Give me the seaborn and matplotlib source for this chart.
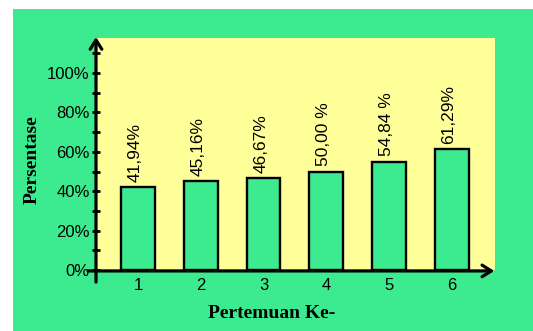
import matplotlib
matplotlib.use("Agg")
import matplotlib.pyplot as plt
from matplotlib.patches import Rectangle
from matplotlib.ticker import MultipleLocator, FuncFormatter
import seaborn as sns
import pandas as pd

# Meeting numbers and the share of students reaching the target (%)
meetings = ["1", "2", "3", "4", "5", "6"]
percent = [41.94, 45.16, 46.67, 50.00, 54.84, 61.29]
bar_labels = ["41,94%", "45,16%", "46,67%", "50,00 %", "54,84 %", "61,29%"]
y_ticks = [0, 20, 40, 60, 80, 100]

GREEN = "#3CEB8F"
YELLOW = "#FFFF99"

sns.set_theme(style="white")
plt.rcParams["font.family"] = ["Liberation Sans", "DejaVu Sans"]
plt.rcParams["text.color"] = "black"

fig = plt.figure(figsize=(5.33, 3.31), dpi=100)
fig.patch.set_facecolor("white")
# green backdrop behind the whole chart
fig.patches.append(Rectangle((13 / 533, 0), 1 - 13 / 533, 1 - 9 / 331,
                             transform=fig.transFigure, facecolor=GREEN,
                             edgecolor="none", zorder=-10))

ax = fig.add_axes([96 / 533, 61 / 331, 399 / 533, 232 / 331])
ax.set_zorder(5)
ax.set_facecolor(YELLOW)

df = pd.DataFrame({"Pertemuan": meetings, "Persen": percent})
sns.barplot(data=df, x="Pertemuan", y="Persen", color=GREEN, saturation=1,
            edgecolor="black", linewidth=1.7, width=0.54, ax=ax, zorder=3)

ax.set_xlim(-0.67, 5.69)
ax.set_ylim(0, 117.8)

for sp in ax.spines.values():
    sp.set_visible(False)

# value labels above each bar
for i, (v, lab) in enumerate(zip(percent, bar_labels)):
    ax.annotate(lab, xy=(i, v), xytext=(-2, 4), textcoords="offset points",
                rotation=90, ha="center", va="bottom", fontsize=12.5,
                color="black", zorder=5)

ax.set_yticks(y_ticks)
ax.yaxis.set_minor_locator(MultipleLocator(10))
ax.yaxis.set_major_formatter(FuncFormatter(lambda v, p: f"{v:.0f}%"))
ax.tick_params(axis="y", which="both", direction="inout", length=6, width=2,
               color="black", left=True, pad=1.5, labelsize=12,
               labelcolor="black")
ax.tick_params(axis="x", length=0, pad=6, labelsize=12, labelcolor="black")
ax.set_xticks(range(len(meetings)))
ax.set_xticklabels(meetings)

# axes drawn as arrows
arrow = dict(arrowstyle="->,head_length=0.55,head_width=0.35", lw=2.3,
             color="black", shrinkA=0, shrinkB=0)
ax.annotate("", xy=(0.0, 1.004), xytext=(0.0, -0.052), xycoords="axes fraction",
            textcoords="axes fraction", arrowprops=arrow, annotation_clip=False,
            zorder=6)
ax.annotate("", xy=(0.998, -0.004), xytext=(-0.02, -0.004), xycoords="axes fraction",
            textcoords="axes fraction", arrowprops=arrow, annotation_clip=False,
            zorder=6)

ax.set_xlabel("")
ax.set_ylabel("")
fig.text(272 / 533, 1 - 313 / 331, "Pertemuan Ke-", ha="center", va="center",
         family="Liberation Serif", fontweight="bold", fontsize=14, color="black")
fig.text(32 / 533, 1 - 160 / 331, "Persentase", ha="center", va="center",
         rotation=90, family="Liberation Serif", fontweight="bold", fontsize=14,
         color="black")

fig.savefig("out.png", dpi=100, facecolor=fig.get_facecolor())
